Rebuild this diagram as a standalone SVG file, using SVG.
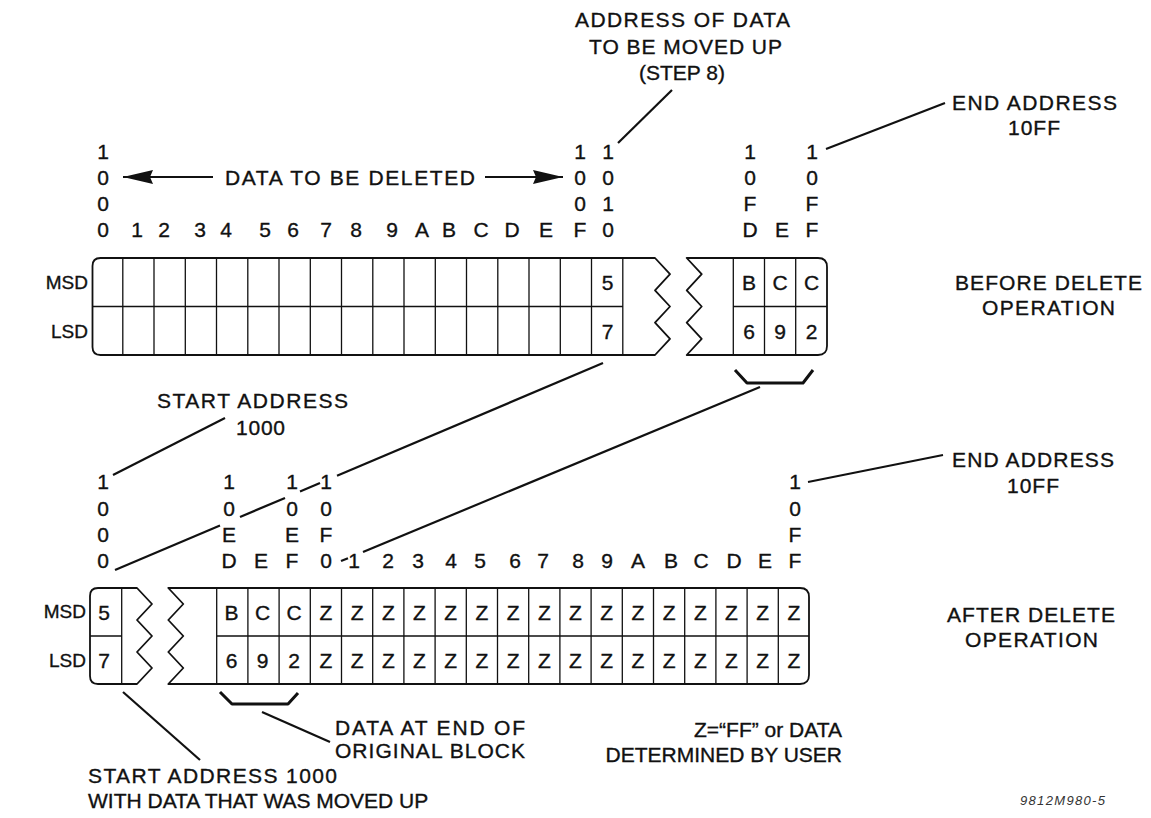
<svg xmlns="http://www.w3.org/2000/svg" width="1151" height="818" viewBox="0 0 1151 818">
<style>
text{font-family:"Liberation Sans",Arial,Helvetica,sans-serif;font-size:21px;fill:#111;stroke:#111;stroke-width:0.35}
.c{text-anchor:middle}
.e{text-anchor:end}
.rl{font-size:19px;text-anchor:end}
.note{font-size:13px;font-style:italic;fill:#333;stroke:none}
.box{fill:none;stroke:#111;stroke-width:1.8;stroke-linejoin:round}
.grid{fill:none;stroke:#111;stroke-width:1.3}
.ln{fill:none;stroke:#111;stroke-width:2.2}
.br{fill:none;stroke:#111;stroke-width:3;stroke-linejoin:round}
</style>
<defs>
<marker id="ah" markerUnits="userSpaceOnUse" viewBox="0 0 30 14" refX="30" refY="7" markerWidth="30" markerHeight="14" orient="auto">
<path d="M0,0 L30,7 L0,14 L3,7 Z" fill="#111"/>
</marker>
</defs>
<rect width="1151" height="818" fill="#fff"/>

<!-- TOP: labels -->
<g id="top-title">
<text x="575" y="27" textLength="215">ADDRESS OF DATA</text>
<text x="589" y="54" textLength="193">TO BE MOVED UP</text>
<text class="c" x="682" y="80">(STEP 8)</text>
</g>
<g id="top-end-address">
<text x="952" y="110" textLength="165">END ADDRESS</text>
<text x="1008" y="135" textLength="52">10FF</text>
</g>
<g id="before-label">
<text x="955" y="290" textLength="187">BEFORE DELETE</text>
<text x="982" y="315" textLength="133">OPERATION</text>
</g>
<g id="delete-label">
<text x="225" y="185" textLength="250">DATA TO BE DELETED</text>
<line class="ln" x1="213" y1="177" x2="123" y2="177" marker-end="url(#ah)"/>
<line class="ln" x1="485" y1="177" x2="563" y2="177" marker-end="url(#ah)"/>
</g>
<g id="top-addresses">
<text class="c" x="103" y="159">1</text><text class="c" x="103" y="185">0</text><text class="c" x="103" y="211">0</text>
<text class="c" x="580" y="159">1</text><text class="c" x="580" y="185">0</text><text class="c" x="580" y="211">0</text>
<text class="c" x="608" y="159">1</text><text class="c" x="608" y="185">0</text><text class="c" x="608" y="211">1</text>
<text class="c" x="750" y="159">1</text><text class="c" x="750" y="185">0</text><text class="c" x="750" y="211">F</text>
<text class="c" x="812" y="159">1</text><text class="c" x="812" y="185">0</text><text class="c" x="812" y="211">F</text>
<text class="c" x="103" y="237">0</text><text class="c" x="137" y="237">1</text><text class="c" x="164" y="237">2</text>
<text class="c" x="200" y="237">3</text><text class="c" x="226" y="237">4</text><text class="c" x="265" y="237">5</text>
<text class="c" x="293" y="237">6</text><text class="c" x="326" y="237">7</text><text class="c" x="356" y="237">8</text>
<text class="c" x="392" y="237">9</text><text class="c" x="422" y="237">A</text><text class="c" x="449" y="237">B</text>
<text class="c" x="481" y="237">C</text><text class="c" x="512" y="237">D</text><text class="c" x="546" y="237">E</text>
<text class="c" x="580" y="237">F</text><text class="c" x="608" y="237">0</text>
<text class="c" x="750" y="237">D</text><text class="c" x="782" y="237">E</text><text class="c" x="812" y="237">F</text>
</g>
<g id="top-row-labels">
<text class="rl" x="88" y="289">MSD</text>
<text class="rl" x="88" y="338">LSD</text>
</g>

<!-- TOP: memory blocks -->
<g id="top-block-left">
<path class="box" d="M655,258 L100.5,258 Q92.5,258 92.5,266 L92.5,347 Q92.5,355 100.5,355 L655,355 L670,338.8 L655,322.7 L670,306.5 L655,290.3 L670,274.2 Z"/>
<path class="grid" d="M122.8,258V355M154,258V355M185.3,258V355M216.5,258V355M247.8,258V355M279,258V355M310.3,258V355M341.5,258V355M372.8,258V355M404,258V355M435.3,258V355M466.5,258V355M497.8,258V355M529,258V355M560.3,258V355M591.5,258V355M622.8,258V355M92.5,306.5H622.8"/>
<text class="c" x="607.5" y="289.5">5</text>
<text class="c" x="607.5" y="338.5">7</text>
</g>
<g id="top-block-right">
<path class="box" d="M686.7,258 L818,258 Q827,258 827,267 L827,346 Q827,355 818,355 L686.7,355 L701.7,338.8 L686.7,322.7 L701.7,306.5 L686.7,290.3 L701.7,274.2 Z"/>
<path class="grid" d="M733.3,258V355M764.5,258V355M795.7,258V355M733.3,306.5H827"/>
<text class="c" x="749" y="289.5">B</text><text class="c" x="780" y="289.5">C</text><text class="c" x="811.5" y="289.5">C</text>
<text class="c" x="749" y="338.5">6</text><text class="c" x="780" y="338.5">9</text><text class="c" x="811.5" y="338.5">2</text>
</g>
<g id="top-bracket">
<path class="br" d="M735,370 L747,383 L803,383 L813,370"/>
</g>

<!-- BOTTOM: labels -->
<g id="start-address-top">
<text x="157" y="408" textLength="191">START ADDRESS</text>
<text x="236" y="435" textLength="49">1000</text>
</g>
<g id="bottom-end-address">
<text x="952" y="467" textLength="162">END ADDRESS</text>
<text x="1007" y="493" textLength="52">10FF</text>
</g>
<g id="after-label">
<text x="947" y="621.5" textLength="168">AFTER DELETE</text>
<text x="965" y="647" textLength="133">OPERATION</text>
</g>
<g id="bottom-addresses">
<text class="c" x="103" y="489">1</text><text class="c" x="103" y="516">0</text><text class="c" x="103" y="542">0</text><text class="c" x="103" y="568">0</text>
<text class="c" x="229" y="489">1</text><text class="c" x="229" y="516">0</text><text class="c" x="229" y="542">E</text><text class="c" x="229" y="568">D</text>
<text class="c" x="261" y="568">E</text>
<text class="c" x="292" y="489">1</text><text class="c" x="292" y="516">0</text><text class="c" x="292" y="542">E</text><text class="c" x="292" y="568">F</text>
<text class="c" x="326" y="489">1</text><text class="c" x="326" y="516">0</text><text class="c" x="326" y="542">F</text><text class="c" x="326" y="568">0</text>
<text class="c" x="354" y="568">1</text><text class="c" x="388" y="568">2</text><text class="c" x="418" y="568">3</text>
<text class="c" x="451" y="568">4</text><text class="c" x="480" y="568">5</text><text class="c" x="515" y="568">6</text>
<text class="c" x="543" y="568">7</text><text class="c" x="578" y="568">8</text><text class="c" x="607" y="568">9</text>
<text class="c" x="638" y="568">A</text><text class="c" x="671" y="568">B</text><text class="c" x="701" y="568">C</text>
<text class="c" x="734" y="568">D</text><text class="c" x="765" y="568">E</text>
<text class="c" x="795" y="489">1</text><text class="c" x="795" y="516">0</text><text class="c" x="795" y="542">F</text><text class="c" x="795" y="568">F</text>
</g>
<g id="bottom-row-labels">
<text class="rl" x="86" y="618">MSD</text>
<text class="rl" x="86" y="667">LSD</text>
</g>

<!-- BOTTOM: memory blocks -->
<g id="bottom-block-left">
<path class="box" d="M137,588 L98,588 Q90,588 90,596 L90,676 Q90,684 98,684 L137,684 L152,668 L137,652 L152,636 L137,620 L152,604 Z"/>
<path class="grid" d="M121.7,588V684M90,636H121.7"/>
<text class="c" x="104" y="619.5">5</text>
<text class="c" x="104" y="667.5">7</text>
</g>
<g id="bottom-block-right">
<path class="box" d="M168.3,588 L800,588 Q809,588 809,597 L809,675 Q809,684 800,684 L168.3,684 L183.3,668 L168.3,652 L183.3,636 L168.3,620 L183.3,604 Z"/>
<path class="grid" d="M216.7,588V684M247.9,588V684M279.1,588V684M310.3,588V684M341.5,588V684M372.7,588V684M403.9,588V684M435.1,588V684M466.3,588V684M497.5,588V684M528.7,588V684M559.9,588V684M591.1,588V684M622.3,588V684M653.5,588V684M684.7,588V684M715.9,588V684M747.1,588V684M778.3,588V684M216.7,636H809"/>
<text class="c" x="231.5" y="619.5">B</text><text class="c" x="262.5" y="619.5">C</text><text class="c" x="294" y="619.5">C</text>
<text class="c" x="231.5" y="667.5">6</text><text class="c" x="262.5" y="667.5">9</text><text class="c" x="294" y="667.5">2</text>
<text class="c" x="325.9" y="619.5">Z</text><text class="c" x="357.1" y="619.5">Z</text><text class="c" x="388.3" y="619.5">Z</text><text class="c" x="419.5" y="619.5">Z</text>
<text class="c" x="450.7" y="619.5">Z</text><text class="c" x="481.9" y="619.5">Z</text><text class="c" x="513.1" y="619.5">Z</text><text class="c" x="544.3" y="619.5">Z</text>
<text class="c" x="575.5" y="619.5">Z</text><text class="c" x="606.7" y="619.5">Z</text><text class="c" x="637.9" y="619.5">Z</text><text class="c" x="669.1" y="619.5">Z</text>
<text class="c" x="700.3" y="619.5">Z</text><text class="c" x="731.5" y="619.5">Z</text><text class="c" x="762.7" y="619.5">Z</text><text class="c" x="793.9" y="619.5">Z</text>
<text class="c" x="325.9" y="667.5">Z</text><text class="c" x="357.1" y="667.5">Z</text><text class="c" x="388.3" y="667.5">Z</text><text class="c" x="419.5" y="667.5">Z</text>
<text class="c" x="450.7" y="667.5">Z</text><text class="c" x="481.9" y="667.5">Z</text><text class="c" x="513.1" y="667.5">Z</text><text class="c" x="544.3" y="667.5">Z</text>
<text class="c" x="575.5" y="667.5">Z</text><text class="c" x="606.7" y="667.5">Z</text><text class="c" x="637.9" y="667.5">Z</text><text class="c" x="669.1" y="667.5">Z</text>
<text class="c" x="700.3" y="667.5">Z</text><text class="c" x="731.5" y="667.5">Z</text><text class="c" x="762.7" y="667.5">Z</text><text class="c" x="793.9" y="667.5">Z</text>
</g>
<g id="bottom-bracket">
<path class="br" d="M220,692 L232,704 L288,704 L298,693"/>
</g>
<g id="notes">
<text x="335" y="735" textLength="190">DATA AT END OF</text>
<text x="335" y="758" textLength="190">ORIGINAL BLOCK</text>
<text class="e" x="842" y="737">Z=“FF” or DATA</text>
<text class="e" x="842" y="762">DETERMINED BY USER</text>
<text x="88" y="783" textLength="249">START ADDRESS 1000</text>
<text x="88" y="808">WITH DATA THAT WAS MOVED UP</text>
<text class="note" x="1020" y="805" textLength="85">9812M980-5</text>
</g>

<!-- connectors -->
<g id="connectors">
<line class="ln" x1="618" y1="143" x2="672" y2="90"/>
<line class="ln" x1="826" y1="149" x2="945" y2="103"/>
<line class="ln" x1="113" y1="475" x2="225" y2="418"/>
<line class="ln" x1="603" y1="363" x2="337" y2="475.8"/>
<line class="ln" x1="320" y1="483" x2="300" y2="491.5"/>
<line class="ln" x1="285" y1="497.9" x2="240" y2="517"/>
<line class="ln" x1="220" y1="525.5" x2="115" y2="570"/>
<line class="ln" x1="760" y1="387" x2="363" y2="552"/>
<line class="ln" x1="348" y1="558.2" x2="341" y2="561.1"/>
<line class="ln" x1="808" y1="482" x2="943" y2="455"/>
<line class="ln" x1="262" y1="712" x2="330" y2="742"/>
<line class="ln" x1="123" y1="692" x2="200" y2="760"/>
</g>
</svg>
